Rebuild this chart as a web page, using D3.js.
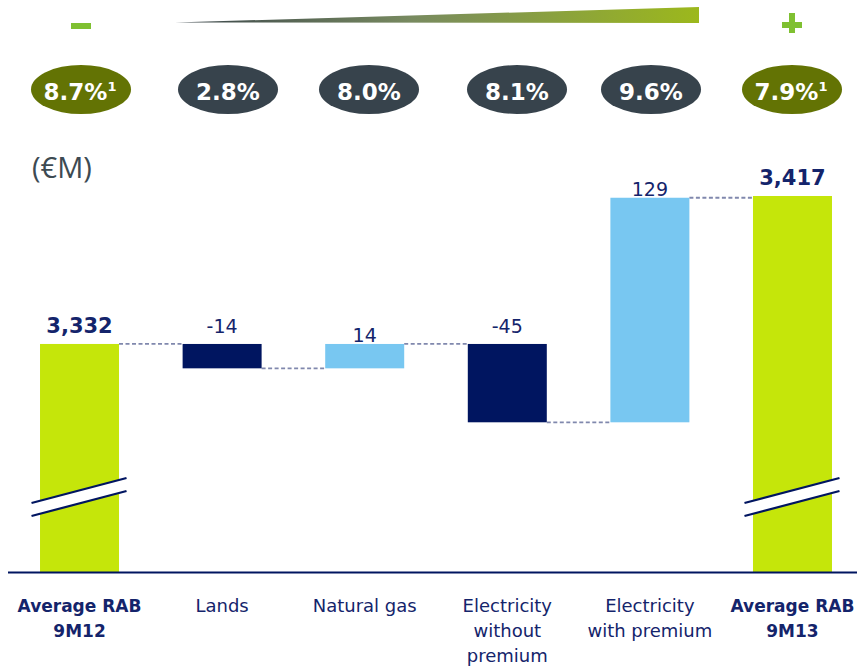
<!DOCTYPE html>
<html><head><meta charset="utf-8">
<script src="https://cdn.jsdelivr.net/npm/d3@7"></script>
<style>
html,body{margin:0;padding:0;background:#fff;}
svg{display:block;font-family:"DejaVu Sans",Verdana,sans-serif;}
</style></head>
<body>
<svg id="chart" width="857" height="667"></svg>
<script>
// ---- data ----
const categories = ["Average RAB\n9M12", "Lands", "Natural gas", "Electricity\nwithout\npremium", "Electricity\nwith premium", "Average RAB\n9M13"];
const values = [3332, -14, 14, -45, 129, 3417];
const valueLabels = ["3,332", "-14", "14", "-45", "129", "3,417"];
const kinds = ["total", "delta", "delta", "delta", "delta", "total"];
const returnLabels = ["8.7%", "2.8%", "8.0%", "8.1%", "9.6%", "7.9%"];
const returnNotes = ["1", "", "", "", "", "1"];
const returnKinds = ["total", "mid", "mid", "mid", "mid", "total"];
const axisBase = 3201;
const axisTop = 3417;

// ---- layout ----
const svg = d3.select("#chart");
const W = 857;
const x = d3.scaleBand().domain(d3.range(categories.length)).range([11.5, 860.5]).paddingInner(0.446).paddingOuter(0.2);
const y = d3.scaleLinear().domain([axisBase, axisTop]).range([572, 196]);

const navy = "#001560", light = "#78c7f1", lime = "#c5e60a", textNavy = "#14246b";

// compute waterfall segments
let running = 0;
const segs = values.map((v, i) => {
  let lo, hi, start, end;
  if (kinds[i] === "total") { lo = axisBase; hi = v; start = v; end = v; running = v; }
  else { start = running; end = running + v; running = end; lo = Math.min(start, end); hi = Math.max(start, end); }
  return {i, v, lo, hi, start, end};
});

// connectors
for (let i = 0; i < segs.length - 1; i++) {
  const lvl = segs[i].end;
  svg.append("line")
    .attr("x1", x(i) + x.bandwidth()).attr("x2", x(i + 1))
    .attr("y1", y(lvl)).attr("y2", y(lvl))
    .attr("stroke", "#8088ad").attr("stroke-width", 1.8).attr("stroke-dasharray", "4,2.5");
}

// bars
svg.selectAll("rect.bar").data(segs).join("rect").attr("class", "bar")
  .attr("x", d => x(d.i)).attr("width", x.bandwidth())
  .attr("y", d => y(d.hi)).attr("height", d => y(d.lo) - y(d.hi))
  .attr("fill", d => kinds[d.i] === "total" ? lime : (d.v < 0 ? navy : light));

// break marks on total bars
segs.filter(d => kinds[d.i] === "total").forEach(d => {
  const cx = x(d.i) + x.bandwidth() / 2;
  const x0 = cx - 48, x1 = cx + 47;
  const g = svg.append("g");
  g.append("polygon")
    .attr("points", `${x0},${503} ${x1},${478} ${x1},${491} ${x0},${516}`)
    .attr("fill", "#fff");
  g.append("line").attr("x1", x0).attr("y1", 503).attr("x2", x1).attr("y2", 478).attr("stroke", navy).attr("stroke-width", 2.2);
  g.append("line").attr("x1", x0).attr("y1", 516).attr("x2", x1).attr("y2", 491).attr("stroke", navy).attr("stroke-width", 2.2);
});

// axis line
svg.append("line").attr("x1", 8).attr("x2", W).attr("y1", 572.5).attr("y2", 572.5)
  .attr("stroke", navy).attr("stroke-width", 2);

// value labels
svg.selectAll("text.val").data(segs).join("text").attr("class", "val")
  .attr("x", d => x(d.i) + x.bandwidth() / 2)
  .attr("y", d => y(d.hi) - (kinds[d.i] === "total" ? 11 : (d.v < 0 ? 11 : 2)))
  .attr("text-anchor", "middle")
  .attr("font-size", d => kinds[d.i] === "total" ? 21 : 19)
  .attr("font-weight", d => kinds[d.i] === "total" ? "bold" : "normal")
  .attr("fill", textNavy)
  .text(d => valueLabels[d.i]);

// category labels
categories.forEach((c, i) => {
  const t = svg.append("text")
    .attr("x", x(i) + x.bandwidth() / 2).attr("y", 612)
    .attr("text-anchor", "middle").attr("font-size", kinds[i] === "total" ? 17 : 18)
    .attr("font-weight", kinds[i] === "total" ? "bold" : "normal")
    .attr("fill", textNavy);
  c.split("\n").forEach((line, k) => {
    t.append("tspan").attr("x", x(i) + x.bandwidth() / 2).attr("dy", k === 0 ? 0 : 25).text(line);
  });
});

// (€M)
svg.append("text").attr("x", 32).attr("y", 178).attr("font-size", 29)
  .attr("fill", "#3d4a52").attr("font-family", "'Open Sans', sans-serif").text("(€M)");

// return ellipses
const ex = [81, 228, 369, 517, 651, 792];
returnLabels.forEach((lab, i) => {
  svg.append("ellipse").attr("cx", ex[i]).attr("cy", 89.5).attr("rx", 50).attr("ry", 24.5)
    .attr("fill", returnKinds[i] === "total" ? "#637304" : "#37434c");
  const t = svg.append("text").attr("x", ex[i] + (returnNotes[i] ? -1 : 0)).attr("y", 100)
    .attr("text-anchor", "middle").attr("font-size", 23).attr("font-weight", "bold").attr("fill", "#fff");
  t.append("tspan").text(lab);
  if (returnNotes[i]) t.append("tspan").attr("font-size", 13).attr("dy", -9).text(returnNotes[i]);
});

// minus / plus signs
svg.append("rect").attr("x", 71).attr("y", 23).attr("width", 20).attr("height", 6).attr("fill", "#7fc031");
svg.append("rect").attr("x", 782).attr("y", 22).attr("width", 20).attr("height", 6).attr("fill", "#7fc031");
svg.append("rect").attr("x", 789).attr("y", 13).attr("width", 6).attr("height", 20).attr("fill", "#7fc031");

// wedge
const defs = svg.append("defs");
const grad = defs.append("linearGradient").attr("id", "wedge").attr("x1", "0%").attr("x2", "100%");
grad.append("stop").attr("offset", "0%").attr("stop-color", "#38434a");
grad.append("stop").attr("offset", "45%").attr("stop-color", "#788a60");
grad.append("stop").attr("offset", "100%").attr("stop-color", "#9cb81c");
svg.append("polygon").attr("points", "175,22.5 699,7 699,23").attr("fill", "url(#wedge)");
</script>
</body></html>
